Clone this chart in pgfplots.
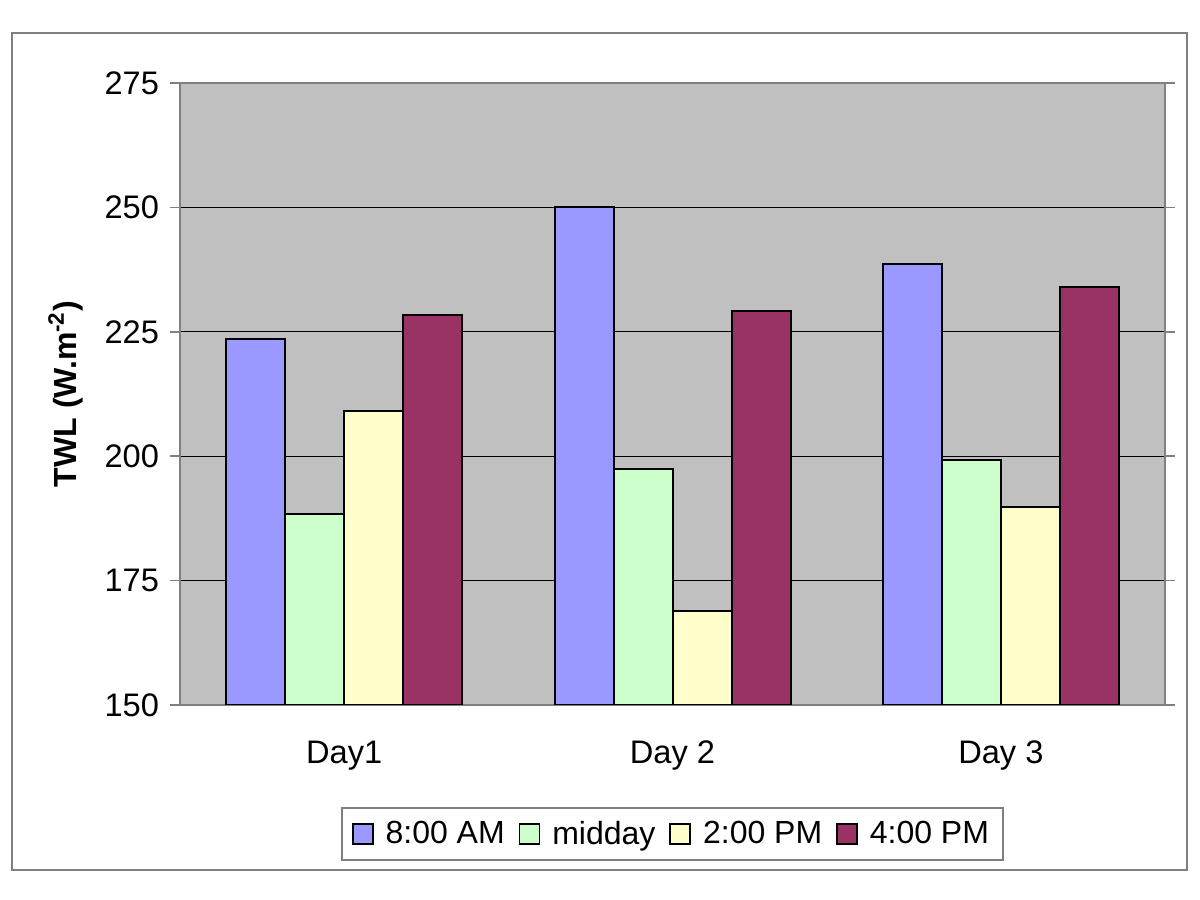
\documentclass[border=0pt]{standalone}
\usepackage{pgfplots}
\pgfplotsset{compat=1.18}
\usepackage{fontspec}
\setmainfont{Liberation Sans}
\definecolor{bg}{HTML}{C0C0C0}
\definecolor{frame}{HTML}{808080}
\definecolor{cA}{HTML}{9999FF}
\definecolor{cB}{HTML}{CCFFCC}
\definecolor{cC}{HTML}{FFFFCC}
\definecolor{cD}{HTML}{993366}
\begin{document}
\begin{tikzpicture}
\path[use as bounding box] (0,0) rectangle (600pt,450pt);
\draw[frame, line width=0.8pt] (6pt,15pt) rectangle (593.5pt,433.5pt);
\begin{axis}[
  at={(90pt,97.5pt)}, anchor=south west,
  scale only axis, width=492.5pt, height=311pt,
  axis background/.style={fill=bg},
  axis line style={frame, line width=0.8pt},
  ybar=0pt, bar width=29.5pt,
  xmin=-0.5, xmax=2.5, ymin=150, ymax=275,
  ytick={150,175,...,275},
  ymajorgrids, grid style={black, line width=0.5pt},
  xtick={0,1,2}, xticklabels={Day1, Day 2, Day 3},
  major x tick style={draw=none},
  extra x ticks={-0.5,0.5,1.5,2.5}, extra x tick labels={},
  extra x tick style={grid=none, major tick length=5pt, tick align=outside, tick style={draw=frame, line width=0.8pt}},
  tick align=outside, major tick length=5pt,
  ytick style={draw=frame, line width=0.8pt},
  tick label style={font=\fontsize{16.3}{18}\selectfont},
  /pgf/number format/assume math mode=true,
  yticklabel style={xshift=-2pt},
  xticklabel style={yshift=-9.5pt},
  ylabel={\fontsize{16}{18}\selectfont\bfseries TWL (W.m\textsuperscript{-2})},
  ylabel style={at={(axis description cs:-0.116,0.5)}, anchor=center},
  legend columns=4,
  legend style={at={(0.5,-0.2074)}, anchor=center, draw=frame, line width=0.8pt,
    font=\fontsize{16}{18}\selectfont, inner xsep=5pt, inner ysep=4.5pt,
    /tikz/every even column/.append style={column sep=5pt},
    /tikz/every odd column/.append style={column sep=4pt}},
  legend image code/.code={\draw[#1, line width=0.8pt] (0pt,-5pt) rectangle (10pt,5pt);},
]
\addplot[fill=cA, draw=black, line width=1pt] coordinates {(0,223.5) (1,250) (2,238.6)};
\addplot[fill=cB, draw=black, line width=1pt] coordinates {(0,188.4) (1,197.4) (2,199.2)};
\addplot[fill=cC, draw=black, line width=1pt] coordinates {(0,209.1) (1,168.9) (2,189.8)};
\addplot[fill=cD, draw=black, line width=1pt] coordinates {(0,228.4) (1,229.2) (2,234)};
\legend{8:00 AM, midday, 2:00 PM, 4:00 PM}
\end{axis}
\end{tikzpicture}
\end{document}
